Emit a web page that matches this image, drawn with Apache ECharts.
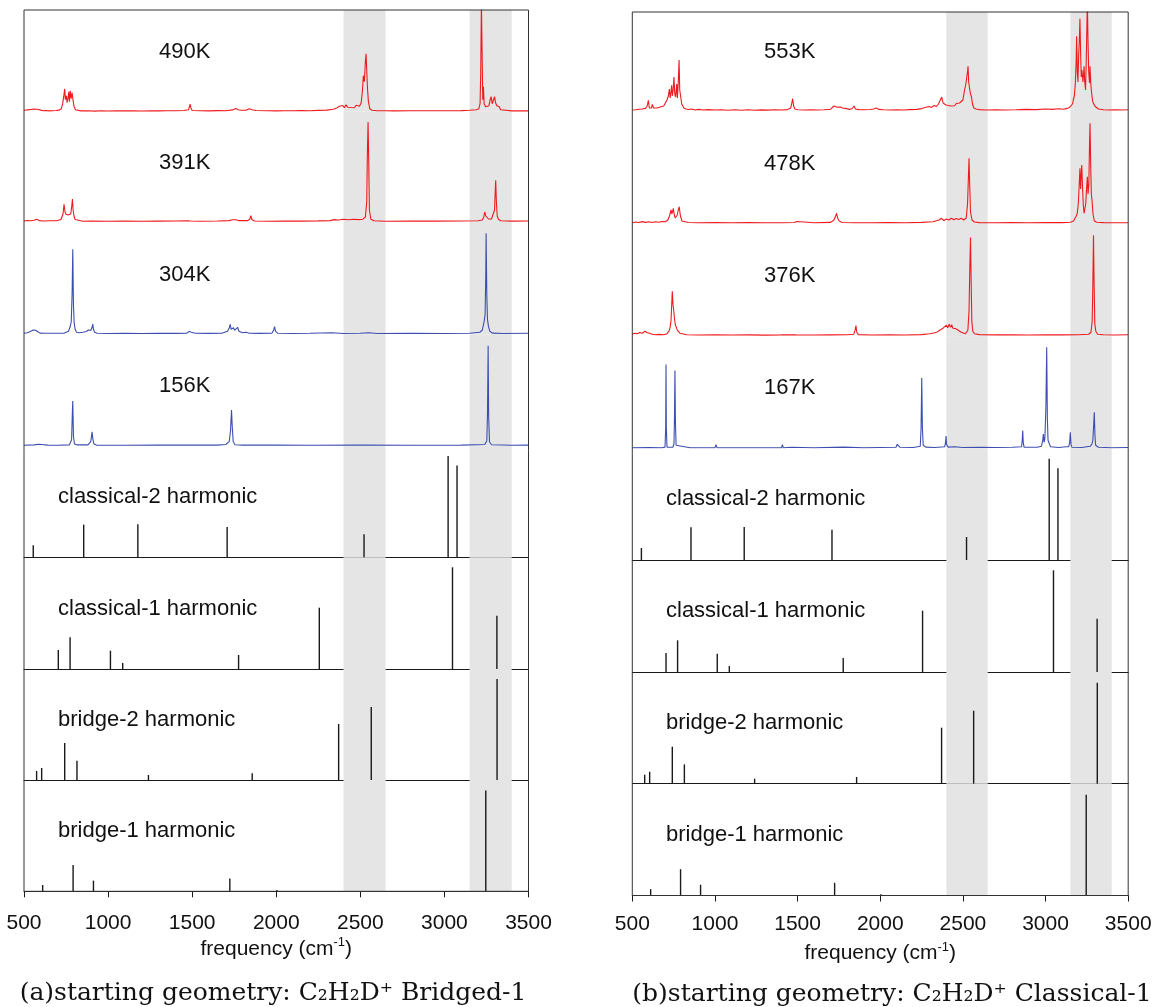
<!DOCTYPE html>
<html>
<head>
<meta charset="utf-8">
<script src="https://cdn.jsdelivr.net/npm/echarts@6/dist/echarts.min.js"></script>
<style>
  html, body { margin: 0; padding: 0; background: #fff; }
  #chart { width: 1155px; height: 1007px; }
</style>
</head>
<body>
<div id="chart"></div>
<script>
// x axis (frequency, cm-1)
const freqMin = 500
const freqMax = 3500
const freqStep = 500
const shadedBands = [[2400, 2650], [3150, 3400]]

// MD spectra, [frequency, intensity (arb.)]
// (a) starting geometry Bridged-1
const bridged490K = [[500,1.5],[510,2.5],[520,1.8],[530,3],[540,2.2],[550,3.4],[560,2.6],[570,3.2],[580,2.4],[590,3],[600,1.6],[615,1],[630,1.2],[650,0.8],[670,1],[690,1.2],[710,1.6],[722,3],[730,8],[736,15],[742,23],[746,12],[752,16],[756,9],[762,14],[766,20],[770,10],[775,21],[780,13],[786,19],[792,11],[798,5],[806,2],[815,1],[840,0.8],[880,1],[920,0.6],[960,0.9],[1000,0.7],[1050,1],[1100,0.8],[1150,1],[1200,0.7],[1250,0.9],[1300,0.8],[1350,1],[1400,0.9],[1450,1.2],[1478,2],[1484,5],[1488,7.5],[1492,4],[1500,1.2],[1550,1],[1600,0.8],[1650,1.1],[1700,1],[1740,1.8],[1760,3.3],[1772,2],[1790,1.4],[1820,1.5],[1840,3],[1849,5],[1856,2],[1880,1.2],[1950,1],[2000,0.8],[2050,1],[2100,0.9],[2150,1.1],[2200,1],[2250,1.3],[2300,1.6],[2340,2.4],[2360,3.8],[2375,5.5],[2385,3.5],[2395,6.2],[2405,4],[2415,6.8],[2425,4.5],[2435,6.4],[2445,4.2],[2455,6],[2465,4],[2475,6.5],[2485,4.8],[2495,5.5],[2505,9],[2512,20],[2518,36],[2524,30],[2530,50],[2534,58],[2538,42],[2542,25],[2548,10],[2556,3],[2570,1.4],[2600,1],[2650,1],[2700,0.8],[2800,1],[2900,0.9],[3000,1],[3100,1.1],[3150,1.4],[3190,2],[3205,3],[3212,8],[3216,40],[3220,110],[3224,60],[3228,12],[3232,25],[3236,8],[3245,5],[3255,4],[3265,6],[3272,12],[3278,15],[3284,8],[3292,12],[3298,15],[3304,9],[3312,6],[3320,7],[3326,5],[3334,2],[3345,1],[3400,0.8],[3450,1],[3500,0.8]]
const bridged391K = [[500,1],[520,1.5],[540,1.2],[560,1.8],[575,2.7],[590,1.4],[620,1],[660,1.2],[700,1.4],[720,2.5],[732,8],[738,17.7],[744,10],[750,7.7],[756,6],[762,7],[770,5],[778,8],[784,16],[788,23],[792,12],[797,6],[804,2.5],[815,1],[850,0.8],[900,1],[1000,0.8],[1100,1],[1200,0.8],[1300,0.9],[1400,1],[1470,1.2],[1480,2],[1490,1],[1550,0.8],[1650,1],[1720,1.4],[1740,2.2],[1750,1.6],[1760,2.2],[1775,1.4],[1830,1.4],[1843,3],[1849,6.3],[1855,2.5],[1870,1],[1950,0.8],[2050,1],[2150,0.9],[2250,1.1],[2320,1.4],[2345,2.4],[2370,2],[2400,2.8],[2430,2.2],[2460,2.8],[2490,2.4],[2515,2.8],[2530,5],[2538,20],[2542,70],[2546,100],[2550,60],[2554,12],[2562,3],[2580,1.2],[2650,0.8],[2800,1],[2950,0.9],[3100,1],[3200,1.3],[3225,2],[3234,5],[3240,10],[3246,6],[3252,4],[3262,3],[3280,3],[3290,5],[3298,12],[3302,30],[3305,41.7],[3309,20],[3314,6],[3322,2.5],[3335,1.2],[3400,0.9],[3500,1]]
const bridged304K = [[500,1],[520,1.5],[535,2.5],[545,3.5],[555,4.3],[562,2.5],[570,4],[575,5],[582,2.5],[595,1.2],[620,1],[680,1],[740,1.2],[765,3],[775,8],[781,12.7],[786,40],[790,85],[794,30],[798,12],[804,5],[812,2],[830,1.5],[850,2],[870,2.8],[883,4.3],[890,3],[898,4],[905,7],[909,10.3],[913,5],[920,2],[935,1],[1000,0.8],[1100,1],[1200,0.8],[1300,1],[1400,0.9],[1470,1.2],[1482,3],[1488,4.3],[1494,2],[1520,1],[1600,0.9],[1680,1.2],[1710,3],[1720,6],[1726,10],[1732,5],[1740,6],[1746,6.5],[1752,4],[1762,5.5],[1770,7],[1778,3],[1800,1.5],[1820,2],[1840,1],[1900,0.9],[1975,1.2],[1984,4],[1990,7.7],[1996,3],[2010,1],[2100,0.8],[2200,1],[2331,1.5],[2400,0.8],[2500,1],[2550,1.5],[2600,0.8],[2800,1],[3000,0.8],[3150,1],[3210,2],[3225,4],[3236,12.7],[3242,20],[3246,60],[3248,101],[3252,40],[3256,15],[3262,8],[3270,3],[3285,1.2],[3350,0.8],[3500,1]]
const bridged156K = [[500,0.5],[560,0.8],[585,1.5],[595,2.3],[605,1.2],[640,0.6],[700,0.5],[770,0.8],[783,6],[787,30],[790,44.7],[794,10],[800,2],[815,0.8],[880,0.8],[897,4],[902,10],[905,14],[909,7],[915,2],[930,0.6],[1100,0.5],[1300,0.6],[1480,0.7],[1488,1.5],[1496,0.6],[1650,0.6],[1700,1.2],[1720,4],[1728,15],[1734,35.7],[1738,20],[1744,4],[1755,1],[1800,0.6],[1995,0.6],[2000,1.5],[2005,0.6],[2200,0.5],[2500,0.6],[2800,0.5],[3100,0.6],[3240,1.2],[3252,5],[3256,30],[3260,100],[3263,30],[3268,4],[3280,1],[3400,0.5],[3500,0.6]]

// (b) starting geometry Classical-1
const classical553K = [[500,2],[510,3.5],[520,2.2],[530,4],[540,2.8],[550,4.5],[560,3],[570,5],[580,3.6],[590,6],[597,11.7],[603,4],[610,5],[616,4],[621,7.7],[628,4],[640,5],[650,4],[660,6],[670,5],[680,7],[690,6],[700,9],[710,12],[718,16],[724,23],[729,14],[734,20],[738,26.7],[742,16],[747,22],[752,35],[757,18],[762,15],[766,22],[769,28],[773,14],[778,30],[783,52],[787,22],[793,15],[799,8],[805,6],[812,4],[825,3],[840,2.5],[860,3],[880,2],[900,2.6],[930,2],[960,2.4],[1000,2],[1040,2.3],[1080,1.8],[1120,2.2],[1160,1.8],[1200,2.2],[1240,1.8],[1280,2.1],[1320,1.9],[1360,2.2],[1400,2],[1440,2.4],[1458,4],[1464,8],[1470,13.3],[1476,6],[1484,3],[1500,2.2],[1540,2],[1580,2.2],[1620,2],[1660,2.3],[1700,2.8],[1712,4.5],[1720,6],[1732,7.3],[1740,4.8],[1750,6.5],[1758,5],[1764,7],[1772,4],[1782,5.2],[1790,3.6],[1800,3],[1815,2.6],[1830,3.5],[1842,6],[1850,3],[1870,2.4],[1900,2.2],[1940,2.5],[1960,3],[1977,4],[1990,2.6],[2020,2.2],[2060,2],[2100,2.2],[2140,2],[2180,2.4],[2220,2.6],[2250,3.4],[2270,4.5],[2282,3.8],[2295,5.5],[2310,4.6],[2325,6.5],[2340,5.5],[2352,8],[2362,10],[2372,15],[2380,9],[2390,11],[2398,7],[2405,9],[2412,6.5],[2420,8.5],[2430,6],[2440,8],[2450,6.2],[2460,8.5],[2470,7],[2480,9],[2490,8],[2500,12],[2510,22],[2518,28],[2524,36],[2528,40],[2531,45.7],[2535,30],[2540,24],[2546,18],[2552,15],[2558,8],[2566,4],[2580,3],[2600,2.4],[2640,2],[2700,2.3],[2760,2],[2820,2.2],[2880,2.6],[2940,2.4],[3000,3],[3040,2.6],[3080,3.2],[3110,2.8],[3130,3.6],[3145,4.6],[3155,5.7],[3163,8],[3168,12],[3174,16],[3180,28],[3185,50],[3188,75.7],[3192,40],[3196,30],[3200,55],[3204,70],[3208,93.3],[3212,60],[3216,35],[3220,42],[3226,30],[3230,38],[3233,45.7],[3237,30],[3242,22],[3246,50],[3250,85],[3253,110],[3257,70],[3261,40],[3266,29],[3269,45.7],[3273,30],[3277,22],[3281,15.7],[3286,10],[3292,8],[3299,5.7],[3310,4],[3320,3],[3329,2.3],[3350,2.2],[3380,2],[3420,2.2],[3460,2],[3500,2.2]]
const classical478K = [[500,1.2],[520,2],[540,1.5],[560,2.4],[580,1.6],[600,2.2],[620,1.5],[640,2.3],[660,1.8],[680,2.5],[700,2.2],[715,4],[725,8],[734,14],[740,10],[748,15.7],[754,9],[760,6],[766,5.7],[772,9],[778,14],[784,17.3],[790,9],[794,7.3],[800,3],[810,1.8],[840,1.5],[900,1.2],[1000,1.4],[1100,1.2],[1200,1.4],[1300,1.2],[1400,1.3],[1480,1.5],[1494,2.5],[1505,1.2],[1600,1.3],[1700,1.6],[1720,4],[1730,8],[1736,10.7],[1742,6],[1752,3],[1770,1.5],[1850,1.3],[1950,1.2],[2050,1.4],[2150,1.2],[2250,1.6],[2320,2.2],[2355,4],[2370,5.7],[2385,3.5],[2400,5],[2415,4],[2430,5.7],[2445,4.2],[2460,5.5],[2475,4.5],[2490,5.7],[2505,4],[2520,6],[2528,20],[2533,45],[2537,65.7],[2541,40],[2546,12],[2555,4],[2570,2],[2600,1.4],[2700,1.2],[2800,1.4],[2900,1.2],[3000,1.5],[3100,1.4],[3150,1.8],[3170,3],[3178,5.7],[3186,8],[3192,10.7],[3198,20],[3204,40],[3208,55.7],[3212,35],[3216,50],[3219,59],[3223,40],[3228,20],[3233,10.7],[3238,12],[3243,20],[3248,35],[3253,47.3],[3257,30],[3262,40],[3266,80],[3269,100.7],[3273,60],[3277,30],[3281,24],[3287,10],[3295,3],[3310,1.8],[3350,1.4],[3420,1.2],[3500,1.3]]
const classical376K = [[500,2],[515,3],[530,2.5],[545,3.8],[560,3],[577,5],[590,3.5],[605,3],[620,2],[640,1.5],[660,1.8],[690,1.5],[710,2.5],[722,5],[728,8.3],[734,15],[738,30],[742,45],[746,32],[750,26.7],[755,18],[760,11.7],[766,9],[772,6],[778,5],[788,3],[800,1.8],[830,1.4],[900,1.2],[1000,1.3],[1100,1.2],[1200,1.3],[1300,1.1],[1400,1.3],[1476,1.5],[1484,2.5],[1492,1.3],[1600,1.2],[1700,1.3],[1800,1.4],[1840,2],[1848,6],[1853,10.7],[1858,4],[1868,1.6],[1950,1.2],[2050,1.3],[2150,1.2],[2250,1.6],[2300,2.4],[2330,3.5],[2345,4.3],[2360,6],[2370,5],[2380,8],[2386,9.3],[2392,7],[2400,11],[2408,8.5],[2417,12],[2425,9],[2432,11.5],[2440,8],[2449,10],[2458,7.5],[2466,8],[2472,6],[2480,6],[2490,4],[2500,2.7],[2515,2.5],[2530,6],[2537,25],[2542,70],[2546,98.7],[2550,55],[2554,15],[2560,5],[2570,2.5],[2600,1.6],[2700,1.3],[2800,1.4],[2900,1.2],[3000,1.4],[3100,1.3],[3200,1.5],[3260,2],[3275,4],[3282,15],[3286,50],[3290,101],[3294,50],[3298,12],[3304,5],[3315,2],[3350,1.4],[3420,1.2],[3500,1.4]]
const classical167K = [[500,0.5],[600,0.7],[680,0.6],[698,1.2],[702,20],[704,83.7],[706,20],[710,1.2],[745,1],[752,4],[755,30],[758,77.7],[761,25],[765,3],[772,1],[850,0.5],[902,0.6],[905,1.2],[908,0.5],[1000,0.6],[1006,3.7],[1012,0.6],[1080,0.6],[1083,1.2],[1086,0.6],[1300,0.5],[1403,0.6],[1408,3.7],[1413,0.6],[1464,1],[1600,0.5],[1778,1.2],[1900,0.6],[2095,1],[2103,4],[2108,5.7],[2113,3],[2120,1],[2200,0.8],[2242,2],[2247,20],[2251,70.3],[2255,20],[2260,3],[2268,4.3],[2275,1.2],[2330,0.8],[2390,1.5],[2395,6],[2398,12.3],[2401,4],[2410,1.2],[2450,1.5],[2500,0.8],[2600,1],[2700,0.8],[2800,1],[2855,1.5],[2859,8],[2862,17.7],[2865,6],[2870,1.2],[2950,1],[2975,2],[2983,8],[2987,14.3],[2991,6],[2996,10],[3002,40],[3007,101],[3011,30],[3015,8],[3019,9.3],[3024,4],[3030,1.5],[3080,0.8],[3125,1.5],[3134,2.7],[3140,1.5],[3146,6],[3150,16],[3154,4],[3160,1],[3220,0.8],[3270,2],[3281,4.3],[3286,8],[3290,20],[3295,36],[3299,12],[3303,3],[3320,1],[3400,0.6],[3500,0.8]]

// harmonic stick spectra, [frequency, intensity (arb.)], same in both panels
const classical2 = [[555,12],[855,32.7],[1177,33],[1708,30.3],[2522,23],[3022,101.3],[3075,91.7]]
const classical1 = [[704,19],[774,31.7],[1014,18.3],[1087,6],[1776,14],[2256,61.3],[3048,101.7],[3312,53.3]]
const bridge2 = [[575,9],[605,12],[742,37],[815,19.3],[1240,5],[1857,6.7],[2371,56],[2565,73],[3313,101]]
const bridge1 = [[611,6.3],[792,26.3],[913,10.7],[1724,12.7],[2004,1.3],[3246,100.7]]

const leftTemps = ['490K', '391K', '304K', '156K']
const rightTemps = ['553K', '478K', '376K', '167K']
const harmonicNames = ['classical-2 harmonic', 'classical-1 harmonic', 'bridge-2 harmonic', 'bridge-1 harmonic']
const harmonicSticks = [classical2, classical1, bridge2, bridge1]

const RED = '#f01a1e'
const BLUE = '#3c4fb0'
const INK = '#1a1a1a'
const SANS = 'Liberation Sans'

const panels = [
  {
    left: 24, width: 504.5,
    rows: [10, 111.7, 222, 334.3, 445.7, 557.3, 669, 780, 891.3],
    spectra: [bridged490K, bridged391K, bridged304K, bridged156K],
    temps: leftTemps, colors: [RED, RED, BLUE, BLUE],
    tempX: 159, harmX: 58, labelMargin: 21,
    caption: '(a)starting geometry: C₂H₂D⁺ Bridged-1', captionX: 273, captionY: 993,
  },
  {
    left: 632.3, width: 495.9,
    rows: [12, 112, 224, 336.2, 448.3, 560, 672, 783.7, 895.5],
    spectra: [classical553K, classical478K, classical376K, classical167K],
    temps: rightTemps, colors: [RED, RED, RED, BLUE],
    tempX: 764, harmX: 666, labelMargin: 18,
    caption: '(b)starting geometry: C₂H₂D⁺ Classical-1', captionX: 892, captionY: 994,
  },
]

const grid = []
const xAxis = []
const yAxis = []
const series = []
const graphic = []

panels.forEach((p) => {
  const stdH = (p.rows[8] - p.rows[1]) / 7
  for (let i = 0; i < 8; i++) {
    const g = grid.length
    const top = p.rows[i]
    const h = p.rows[i + 1] - top
    const isStick = i >= 4
    const isBottom = i === 7
    grid.push({ left: p.left, top: top, width: p.width, height: h, outerBoundsMode: 'none' })
    xAxis.push({
      gridIndex: g, type: 'value', min: freqMin, max: freqMax, interval: freqStep,
      axisLine: { show: isStick, lineStyle: { color: INK, width: 1 } },
      axisTick: { show: isBottom, inside: false, length: 6, lineStyle: { color: INK } },
      axisLabel: {
        show: isBottom, margin: p.labelMargin, fontSize: 21, color: '#111', fontFamily: SANS,
        formatter: (v) => String(v),
      },
      splitLine: { show: false },
      name: isBottom ? '{n|frequency (cm}{s|-1}{n|)}' : '',
      nameLocation: 'middle', nameGap: 45,
      nameTextStyle: {
        rich: {
          n: { fontSize: 21, fontFamily: SANS, color: '#111', lineHeight: 26 },
          s: { fontSize: 13, fontFamily: SANS, color: '#111', lineHeight: 13, verticalAlign: 'top' },
        },
      },
    })
    yAxis.push({ gridIndex: g, type: 'value', min: 0, max: h, show: false })

    const band = {
      silent: true,
      itemStyle: { color: '#e5e5e5' },
      data: shadedBands.map((b) => [{ xAxis: b[0] }, { xAxis: b[1] }]),
    }
    if (isStick) {
      series.push({
        type: 'bar', xAxisIndex: g, yAxisIndex: g, data: harmonicSticks[i - 4],
        barWidth: 1.4, itemStyle: { color: INK }, silent: true, markArea: band,
      })
    } else {
      series.push({
        type: 'line', xAxisIndex: g, yAxisIndex: g, data: p.spectra[i],
        symbol: 'none', showSymbol: false, silent: true,
        lineStyle: { width: 1.1, color: p.colors[i] }, itemStyle: { color: p.colors[i] },
        markArea: band,
      })
    }
    // panel text, about 52px under the top of a full-height row
    graphic.push({
      type: 'text', z: 100,
      x: isStick ? p.harmX : p.tempX,
      y: p.rows[i + 1] - stdH + (isStick ? 51 : 52),
      style: {
        text: isStick ? harmonicNames[i - 4] : p.temps[i],
        fontSize: 22, fontFamily: SANS, fill: '#111', verticalAlign: 'middle',
      },
    })
  }
  // outer frame
  const f = grid.length
  grid.push({
    left: p.left, top: p.rows[0], width: p.width, height: p.rows[8] - p.rows[0],
    show: true, z: 5, borderColor: '#333', borderWidth: 1, backgroundColor: 'transparent', outerBoundsMode: 'none',
  })
  xAxis.push({ gridIndex: f, type: 'value', min: 0, max: 1, show: false })
  yAxis.push({ gridIndex: f, type: 'value', min: 0, max: 1, show: false })

  graphic.push({
    type: 'text', z: 100, x: p.captionX, y: p.captionY,
    style: {
      text: p.caption, fontSize: 25, fontFamily: 'DejaVu Serif', fill: '#111',
      align: 'center', verticalAlign: 'middle',
    },
  })
})

const chart = echarts.init(document.getElementById('chart'))
chart.setOption({
  animation: false,
  backgroundColor: '#fff',
  grid: grid,
  xAxis: xAxis,
  yAxis: yAxis,
  series: series,
  graphic: graphic,
})
</script>
</body>
</html>
